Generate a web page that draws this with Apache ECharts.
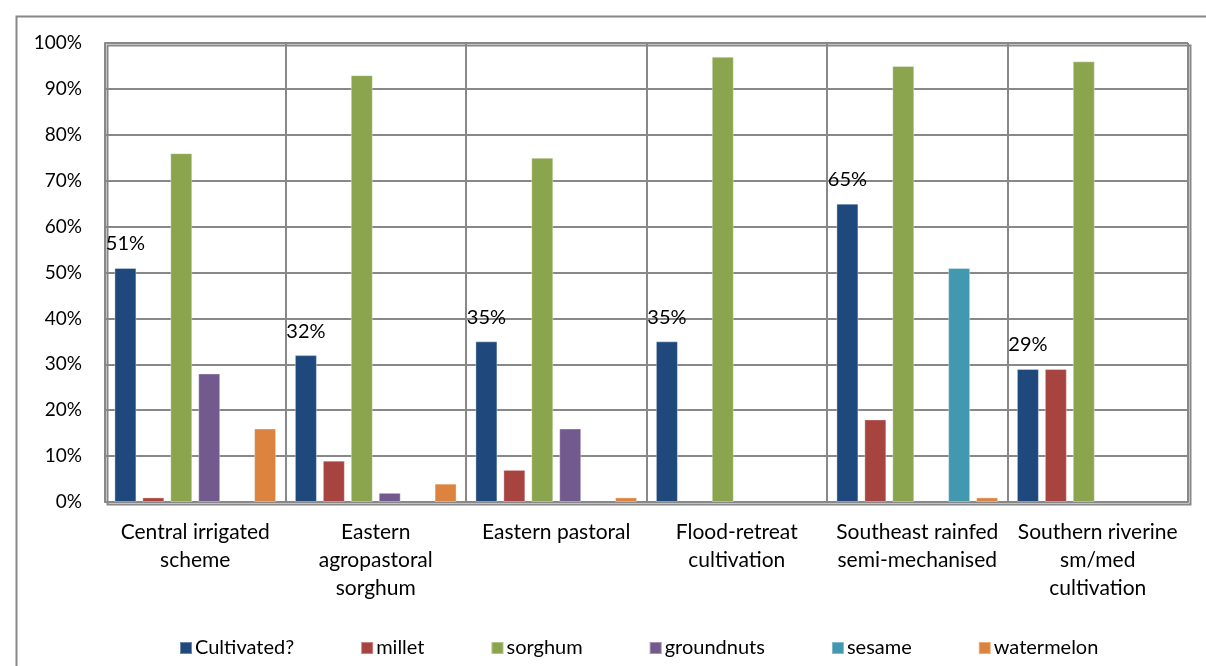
<!DOCTYPE html>
<html>
<head>
<meta charset="utf-8">
<script src="https://cdn.jsdelivr.net/npm/echarts@6/dist/echarts.min.js"></script>
<style>
html,body{margin:0;padding:0;background:#fff;}
#chart{width:1206px;height:666px;}
</style>
</head>
<body>
<div id="chart"></div>
<script>
const categories = ['Central irrigated\nscheme', 'Eastern\nagropastoral\nsorghum', 'Eastern pastoral', 'Flood-retreat\ncultivation', 'Southeast rainfed\nsemi-mechanised', 'Southern riverine\nsm/med\ncultivation'];
const cultivated = [51, 32, 35, 35, 65, 29];
const millet = [1, 9, 7, 0, 18, 29];
const sorghum = [76, 93, 75, 97, 95, 96];
const groundnuts = [28, 2, 16, 0, 0, 0];
const sesame = [0, 0, 0, 0, 51, 0];
const watermelon = [16, 4, 1, 0, 1, 0];
const seriesNames = ['Cultivated?', 'millet', 'sorghum', 'groundnuts', 'sesame', 'watermelon'];
const colors = ['#1F497D', '#A8443F', '#8AA54D', '#725A8E', '#4298AF', '#DD8340'];
const yTicks = [0, 10, 20, 30, 40, 50, 60, 70, 80, 90, 100];

const FONT = 'Lato, "Open Sans", sans-serif';
const data = [cultivated, millet, sorghum, groundnuts, sesame, watermelon];

const chart = echarts.init(document.getElementById('chart'), null, {renderer: 'canvas'});
const series = seriesNames.map((name, i) => ({
  name: name,
  type: 'bar',
  data: data[i].map(v => v === 0 ? null : v),
  barWidth: 22,
  barGap: '27%',
  itemStyle: {color: colors[i], borderColor: 'rgba(255,255,255,0.35)', borderWidth: 1},
  label: i === 0 ? {
    show: true, position: 'top', distance: 14,
    formatter: '{c}%', color: '#000', fontSize: 20, fontFamily: FONT
  } : {show: false},
  emphasis: {disabled: true}
}));

chart.setOption({
  animation: false,
  backgroundColor: '#fff',
  color: colors,
  graphic: [{
    type: 'rect', left: 14, top: 14, silent: true,
    shape: {width: 1300, height: 800},
    style: {fill: 'none', stroke: '#888', lineWidth: 2}
  }, {
    type: 'rect', left: 105, top: 43, silent: true, z: 0,
    shape: {width: 1083, height: 459},
    style: {fill: 'none', stroke: '#888', lineWidth: 2}
  }],
  grid: {left: 105, right: 18, top: 43, bottom: 164, containLabel: false},
  legend: {
    data: seriesNames,
    left: 174, top: 633,
    itemWidth: 12, itemHeight: 12, itemGap: 66,
    icon: 'rect',
    textStyle: {fontSize: 20, fontFamily: FONT, color: '#000', padding: [0, 0, 0, -2]}
  },
  xAxis: {
    type: 'category',
    data: categories,
    axisLine: {show: true, lineStyle: {color: '#888', width: 2}},
    axisTick: {show: false},
    splitLine: {show: true, lineStyle: {color: '#888', width: 2}},
    axisLabel: {
      interval: 0, margin: 16, fontSize: 21, fontFamily: FONT, color: '#000', lineHeight: 28
    }
  },
  yAxis: {
    type: 'value', min: 0, max: 100, interval: 10,
    axisLine: {show: true, lineStyle: {color: '#888', width: 2}},
    axisTick: {show: false},
    splitLine: {show: true, lineStyle: {color: '#888', width: 2}},
    axisLabel: {
      margin: 23, fontSize: 19, fontFamily: FONT, color: '#000',
      formatter: v => yTicks.includes(v) ? v + '%' : ''
    }
  },
  series: series
});
</script>
</body>
</html>
